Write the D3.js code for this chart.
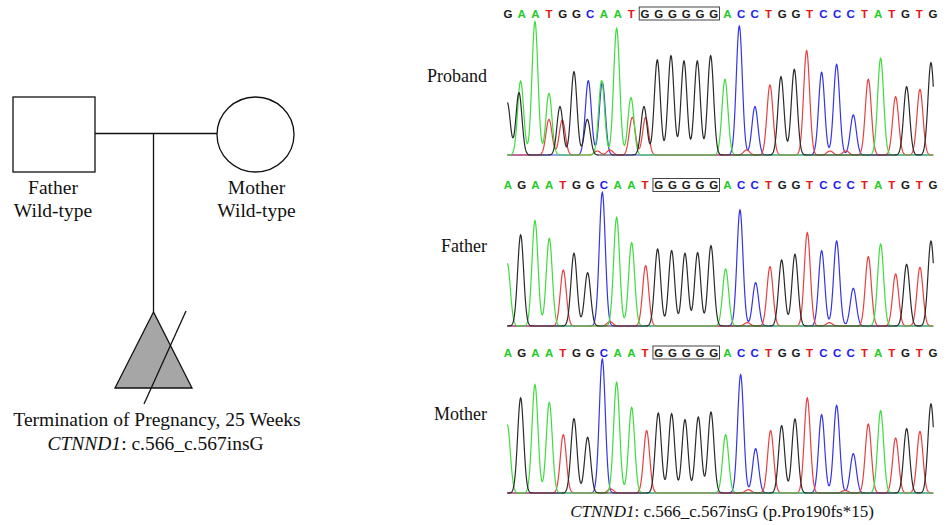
<!DOCTYPE html>
<html>
<head>
<meta charset="utf-8">
<script src="https://cdn.jsdelivr.net/npm/d3@7"></script>
<style>
  body { margin: 0; background: #fff; }
  svg { display: block; }
</style>
</head>
<body>
<svg id="chart" width="945" height="525"></svg>
<script>
// sequence calls shown above each trace
const seqProband = 'GAATGGCAATGGGGGGACCTGGTCCCTATGTG'.split('')
const seqFather = 'AGAATGGCAATGGGGGACCTGGTCCCTATGTG'.split('')
const seqMother = 'AGAATGGCAATGGGGGACCTGGTCCCTATGTG'.split('')
// index range of the boxed G run
const boxProband = [10, 15]
const boxFather = [11, 15]
const boxMother = [11, 15]

const panelNames = ['Proband', 'Father', 'Mother']

// peaks: [base, scan position, signal]
const peaksProband = [
  ['G', 22, 157], ['G', 57, 187], ['A', 62, 222], ['A', 105, 400], ['A', 147, 185], ['T', 147, 107],
  ['G', 180, 145], ['T', 187, 105], ['G', 222, 250], ['C', 265, 223], ['G', 262, 107],
  ['A', 305, 223], ['C', 307, 218], ['T', 292, 12], ['T', 330, 15], ['A', 350, 380], ['A', 393, 172],
  ['T', 397, 113], ['G', 432, 145], ['T', 437, 113], ['G', 472, 285], ['G', 513, 298],
  ['G', 552, 282], ['G', 592, 282], ['G', 632, 298], ['A', 675, 227], ['C', 718, 387],
  ['T', 740, 15], ['C', 765, 145], ['T', 810, 210], ['G', 843, 235], ['G', 883, 257],
  ['T', 920, 313], ['C', 965, 248], ['T', 990, 12], ['C', 1010, 272], ['T', 1038, 12],
  ['C', 1060, 120], ['T', 1105, 227], ['A', 1142, 290], ['T', 1187, 175], ['G', 1220, 205],
  ['T', 1260, 197], ['G', 1293, 277]
]
const peaksFather = [
  ['A', 22, 188], ['G', 62, 273], ['A', 105, 316], ['A', 148, 263], ['T', 190, 168],
  ['G', 222, 218], ['G', 263, 160], ['C', 307, 401], ['T', 330, 13], ['A', 350, 326],
  ['A', 395, 250], ['T', 437, 181], ['G', 473, 231], ['G', 515, 226], ['G', 555, 218],
  ['G', 593, 220], ['G', 633, 241], ['A', 677, 171], ['C', 720, 348], ['T', 742, 10],
  ['C', 767, 130], ['T', 810, 178], ['G', 845, 198], ['G', 885, 215], ['T', 922, 280],
  ['C', 965, 226], ['T', 988, 10], ['C', 1010, 255], ['C', 1060, 113], ['T', 1105, 208],
  ['A', 1142, 246], ['T', 1187, 156], ['G', 1220, 185], ['T', 1260, 176], ['G', 1293, 255]
]
const peaksMother = [
  ['A', 22, 205], ['G', 62, 285], ['A', 105, 325], ['A', 148, 272], ['T', 190, 175],
  ['G', 222, 223], ['G', 263, 167], ['C', 307, 402], ['T', 332, 12], ['A', 350, 332],
  ['A', 395, 257], ['T', 440, 187], ['G', 475, 240], ['G', 515, 238], ['G', 555, 220],
  ['G', 595, 228], ['G', 633, 243], ['A', 677, 175], ['C', 722, 355], ['T', 745, 10],
  ['C', 767, 133], ['T', 812, 187], ['G', 845, 202], ['G', 885, 222], ['T', 922, 285],
  ['C', 965, 235], ['C', 1010, 263], ['T', 1035, 8], ['C', 1060, 118], ['T', 1105, 207],
  ['A', 1142, 247], ['T', 1187, 165], ['G', 1220, 193], ['T', 1260, 185], ['G', 1293, 267]
]

const svg = d3.select('#chart')
const serif = '"Liberation Serif", "Times New Roman", serif'

const letterColor = { G: '#1a1a1a', A: '#1fcc1f', T: '#e81515', C: '#1c1cf0' }
const traceColor = { G: '#2a2a2a', A: '#3fdc3f', T: '#e84040', C: '#3535e6' }

// ---------- pedigree ----------
const ped = svg.append('g').attr('stroke', '#111').attr('stroke-width', 1.3)
ped.append('line').attr('x1', 95).attr('x2', 217).attr('y1', 133.5).attr('y2', 133.5)
ped.append('line').attr('x1', 153.5).attr('x2', 153.5).attr('y1', 133.5).attr('y2', 312)
ped.append('rect').attr('x', 13).attr('y', 97).attr('width', 82).attr('height', 75).attr('fill', '#fff')
ped.append('ellipse').attr('cx', 255.5).attr('cy', 134.5).attr('rx', 38.5).attr('ry', 37.5).attr('fill', '#fff')
ped.append('path').attr('d', d3.line()([[153.5, 312], [115, 388], [192, 388]]) + 'Z').attr('fill', '#a6a6a6')
ped.append('line').attr('x1', 186).attr('y1', 311).attr('x2', 144).attr('y2', 404)

const pedText = svg.append('g').attr('font-family', serif).attr('font-size', 19.5)
  .attr('text-anchor', 'middle').attr('fill', '#111')
pedText.append('text').attr('x', 53).attr('y', 194).text('Father')
pedText.append('text').attr('x', 53).attr('y', 217).text('Wild-type')
pedText.append('text').attr('x', 256.5).attr('y', 194).text('Mother')
pedText.append('text').attr('x', 256.5).attr('y', 217).text('Wild-type')
pedText.append('text').attr('x', 157).attr('y', 426).text('Termination of Pregnancy, 25 Weeks')
const t2 = pedText.append('text').attr('x', 155.5).attr('y', 450)
t2.append('tspan').attr('font-style', 'italic').text('CTNND1')
t2.append('tspan').text(': c.566_c.567insG')

// ---------- chromatograms ----------
const x = d3.scaleLinear().domain([22, 1300]).range([507.3, 933.3])
const letterX = d3.scalePoint().domain(d3.range(32)).range([508, 933])
const h = d3.scaleLinear().domain([0, 420]).range([0, 140])

const panels = [
  { name: panelNames[0], seq: seqProband, box: boxProband, peaks: peaksProband, base: 155, letterY: 13.5, labelY: 82 },
  { name: panelNames[1], seq: seqFather, box: boxFather, peaks: peaksFather, base: 326, letterY: 185, labelY: 252 },
  { name: panelNames[2], seq: seqMother, box: boxMother, peaks: peaksMother, base: 493, letterY: 352.5, labelY: 420 }
]

const sigma = 9
const scans = d3.range(22, 1301, 1)

panels.forEach(p => {
  const g = svg.append('g')
  g.append('text').attr('x', 487).attr('y', p.labelY).attr('text-anchor', 'end')
    .attr('font-family', serif).attr('font-size', 18).attr('fill', '#111').text(p.name)

  g.selectAll('text.base').data(p.seq).join('text').attr('class', 'base')
    .attr('x', (d, i) => letterX(i)).attr('y', p.letterY).attr('dy', '0.36em')
    .attr('text-anchor', 'middle').attr('font-family', '"Liberation Sans", Arial, sans-serif')
    .attr('font-weight', 'bold').attr('font-size', 11.5)
    .attr('fill', d => letterColor[d]).text(d => d)

  const step = letterX.step()
  g.append('rect')
    .attr('x', letterX(p.box[0]) - step / 2 + 1).attr('y', p.letterY - 6.5)
    .attr('width', letterX(p.box[1]) - letterX(p.box[0]) + step - 2).attr('height', 13)
    .attr('fill', 'none').attr('stroke', '#444').attr('stroke-width', 1)

  const y = v => p.base - h(v)
  const line = d3.line().x(d => x(d[0])).y(d => y(d[1])).curve(d3.curveLinear)
  ;['C', 'T', 'A', 'G'].forEach(b => {
    const pk = p.peaks.filter(d => d[0] === b)
    const pts = scans.map(s => [s, d3.sum(pk, d => d[2] * Math.exp(-((s - d[1]) ** 2) / (2 * sigma * sigma)))])
    g.append('path').attr('d', line(pts)).attr('fill', 'none')
      .attr('stroke', traceColor[b]).attr('stroke-width', 1.2)
  })
})

const cap = svg.append('text').attr('x', 722).attr('y', 517).attr('text-anchor', 'middle')
  .attr('font-family', serif).attr('font-size', 17).attr('fill', '#111')
cap.append('tspan').attr('font-style', 'italic').text('CTNND1')
cap.append('tspan').text(': c.566_c.567insG (p.Pro190fs*15)')
</script>
</body>
</html>
